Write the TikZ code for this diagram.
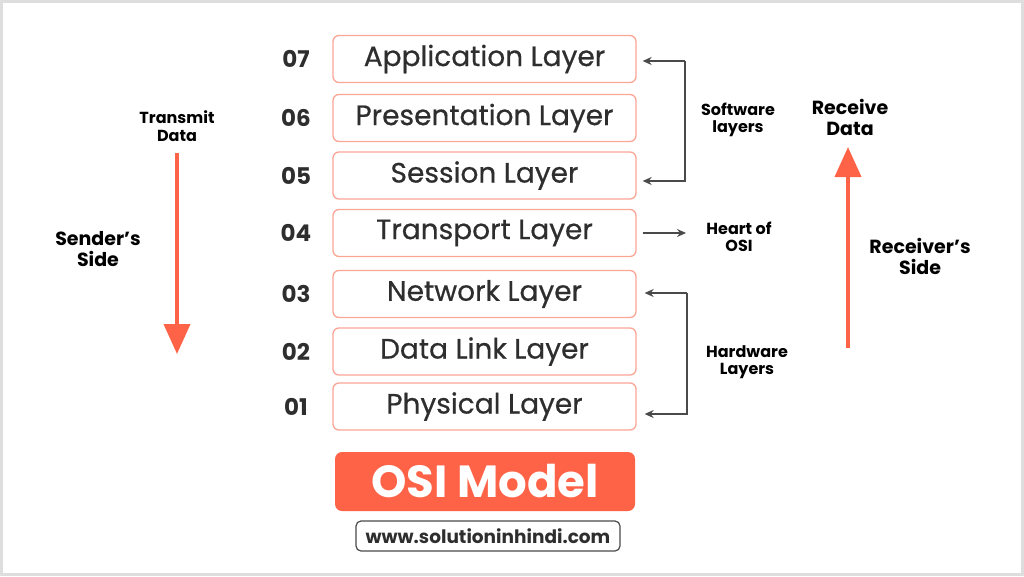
\documentclass[tikz,border=0pt]{standalone}
\usepackage{fontspec}
\setmainfont{Poppins}
\newfontfamily\boxfont{Poppins}[FakeBold=0.6]
\usetikzlibrary{arrows.meta}
\definecolor{salmon}{HTML}{FBA595}
\definecolor{tomato}{HTML}{FF6347}
\definecolor{ink}{HTML}{2E2E2E}
\definecolor{linegray}{HTML}{4A4A4A}
\definecolor{framegray}{HTML}{DEDEDE}
\tikzset{
  layerbox/.style={draw=salmon, line width=1.3pt, rounded corners=6pt, minimum width=303pt, minimum height=47pt, inner sep=0pt, text=ink, font=\boxfont\fontsize{28}{30}\selectfont},
  layernum/.style={text=ink, font=\fontsize{23}{25}\selectfont\bfseries},
  sidelabel/.style={align=center, text=black, font=\fontsize{16}{17.5}\selectfont\bfseries},
  biglabel/.style={align=center, text=black, font=\fontsize{19}{21}\selectfont\bfseries},
  bracket/.style={draw=linegray, line width=1.4pt, -{Stealth[length=9pt,width=8pt]}},
  flow/.style={draw=tomato, line width=4pt, -{Triangle[length=30pt,width=26pt]}},
}
\begin{document}
\begin{tikzpicture}[x=1pt,y=-1pt]
\useasboundingbox (0,0) rectangle (1024,576);
\draw[framegray, line width=3pt] (1.5,1.5) rectangle (1022.5,574.5);
% layers
\node[layerbox] (l7) at (484.5,59) {\raisebox{-1.5pt}{Application Layer}};
\node[layerbox] (l6) at (484.5,118) {\raisebox{-1.5pt}{Presentation Layer}};
\node[layerbox] (l5) at (484.5,175.5) {\raisebox{-1.5pt}{Session Layer}};
\node[layerbox] (l4) at (484.5,233) {\raisebox{-1.5pt}{Transport Layer}};
\node[layerbox] (l3) at (484.5,294) {\raisebox{-1.5pt}{Network Layer}};
\node[layerbox] (l2) at (484.5,351.5) {\raisebox{-1.5pt}{Data Link Layer}};
\node[layerbox] (l1) at (484.5,406.5) {\raisebox{-1.5pt}{Physical Layer}};
% numbers
\node[layernum] (n7) at (296,59) {07};
\node[layernum] (n6) at (296,118) {06};
\node[layernum] (n5) at (296,175.5) {05};
\node[layernum] (n4) at (296,233) {04};
\node[layernum] (n3) at (296,294) {03};
\node[layernum] (n2) at (296,351.5) {02};
\node[layernum] (n1) at (296,406.5) {01};
% brackets
\coordinate (swtop) at (685,61);
\coordinate (swbot) at (685,181);
\draw[bracket] (swtop) -- ([xshift=6pt]l7.east |- swtop);
\draw[bracket] (swtop) -- (swbot) -- ([xshift=6pt]l5.east |- swbot);
\node[sidelabel] (sw) at (738,120) {Software\\layers};
\coordinate (heart) at (686,233);
\draw[bracket] ([xshift=6pt]l4.east) -- (heart);
\node[sidelabel] (ho) at (739,237) {Heart of\\OSI};
\coordinate (hwtop) at (687,293);
\coordinate (hwbot) at (687,414);
\draw[bracket] (hwtop) -- ([xshift=8pt]l3.east |- hwtop);
\draw[bracket] (hwtop) -- (hwbot) -- ([xshift=8pt]l1.east |- hwbot);
\node[sidelabel] (hw) at (747,362) {Hardware\\Layers};
% sender
\node[sidelabel] (td) at (177,126) {Transmit\\Data};
\coordinate (sstart) at (177,153);
\coordinate (send) at (177,354);
\draw[flow] (sstart) -- (send);
\node[biglabel] (ss) at (98,249) {Sender’s\\Side};
% receiver
\node[biglabel] (rd) at (850,117) {Receive\\Data};
\coordinate (rstart) at (848,348);
\coordinate (rend) at (848,147);
\draw[flow] (rstart) -- (rend);
\node[biglabel] (rs) at (920,256) {Receiver’s\\Side};
% title
\node[fill=tomato, rounded corners=7pt, minimum width=300pt, minimum height=59pt, inner sep=0pt, text=white, font=\fontsize{45}{47}\selectfont\bfseries] (title) at (485,481.5) {OSI Model};
\node[draw=linegray, line width=1.2pt, rounded corners=5pt, minimum width=264pt, minimum height=30pt, inner sep=0pt, text=ink, font=\fontsize{18.5}{20}\selectfont\bfseries] (url) at (488,536) {www.solutioninhindi.com};
\end{tikzpicture}
\end{document}
